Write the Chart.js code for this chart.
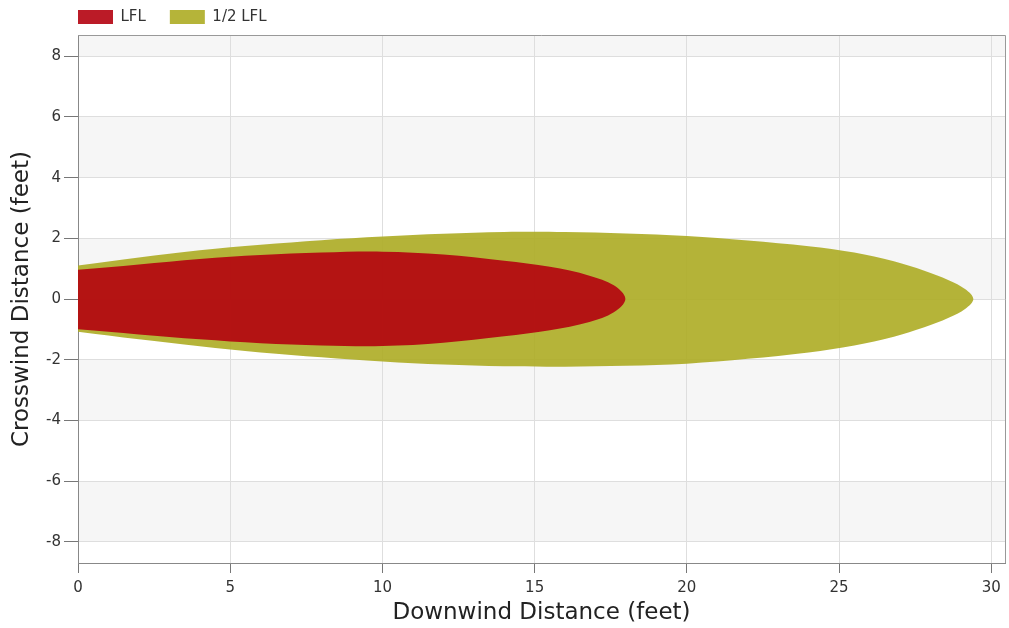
<!DOCTYPE html>
<html>
<head>
<meta charset="utf-8">
<script src="https://cdn.jsdelivr.net/npm/chart.js@4.4.1/dist/chart.umd.min.js"></script>
<style>
  html, body { margin: 0; padding: 0; background: #fff; }
  canvas { display: block; }
</style>
</head>
<body>
<canvas id="plume" width="1009" height="628"></canvas>
<script>
// footprint outlines (feet)
const lflX     = [0, 2, 4, 6, 8, 10, 12, 14, 15.5, 16.8, 17.6, 17.98];
const lflUpper = [0.96, 1.14, 1.32, 1.45, 1.53, 1.56, 1.47, 1.26, 1.06, 0.77, 0.45, 0];
const lflLower = [-1.00, -1.17, -1.33, -1.46, -1.53, -1.55, -1.44, -1.23, -1.03, -0.76, -0.44, 0];

const halfX     = [0, 2, 4, 6, 8, 10, 12, 14, 16, 18, 20, 22, 24, 25.5, 26.8, 27.8, 28.6, 29.15, 29.41];
const halfUpper = [1.10, 1.37, 1.61, 1.79, 1.94, 2.06, 2.15, 2.21, 2.21, 2.16, 2.08, 1.93, 1.74, 1.53, 1.24, 0.93, 0.62, 0.32, 0];
const halfLower = [-1.08, -1.33, -1.56, -1.76, -1.92, -2.06, -2.16, -2.22, -2.23, -2.20, -2.13, -1.97, -1.76, -1.53, -1.24, -0.93, -0.62, -0.32, 0];

const labels = ['LFL', '1/2 LFL'];
const colors = ['rgba(180, 2, 16, 0.9)', 'rgba(173, 172, 36, 0.9)'];

const FONT = 'DejaVu Sans, Verdana, sans-serif';

// go out along the top edge and back along the bottom one
function outline(xs, upper, lower) {
    const pts = xs.map((x, i) => ({ x: x, y: upper[i] }));
    for (let i = xs.length - 2; i >= 0; i--) {
        pts.push({ x: xs[i], y: lower[i] });
    }
    return pts;
}

// alternating grey bands between the y ticks
const bandsPlugin = {
    id: 'bands',
    beforeDraw(chart) {
        const { ctx, chartArea: a, scales: { y } } = chart;
        ctx.save();
        ctx.fillStyle = '#f6f6f6';
        y.ticks.forEach(t => {
            if ((t.value / 2) % 2 !== 0) return;
            const top = Math.max(a.top, y.getPixelForValue(t.value + 2));
            const bottom = Math.min(a.bottom, y.getPixelForValue(t.value));
            ctx.fillRect(a.left, top, a.right - a.left, bottom - top);
        });
        ctx.restore();
    },
    afterDraw(chart) {
        // top and right edges of the plot box
        const { ctx, chartArea: a } = chart;
        ctx.save();
        ctx.strokeStyle = '#999';
        ctx.lineWidth = 1;
        ctx.beginPath();
        ctx.moveTo(a.left, a.top + 0.5);
        ctx.lineTo(a.right + 0.5, a.top + 0.5);
        ctx.lineTo(a.right + 0.5, a.bottom);
        ctx.stroke();
        ctx.restore();
    }
};

// move the legend so it starts above the y axis
const legendShift = {
    id: 'legendShift',
    afterLayout(chart) {
        const lg = chart.legend;
        const pad = lg.options.labels.padding;
        lg.left = 78 - pad;
        lg.top = 17 - 7.5 - pad;
    }
};

new Chart(document.getElementById('plume'), {
    type: 'line',
    data: {
        datasets: [
            {
                label: labels[0],
                data: outline(lflX, lflUpper, lflLower),
                backgroundColor: colors[0],
                borderColor: colors[0],
                borderWidth: 0,
                fill: 'shape',
                tension: 0.35,
                pointRadius: 0
            },
            {
                label: labels[1],
                data: outline(halfX, halfUpper, halfLower),
                backgroundColor: colors[1],
                borderColor: colors[1],
                borderWidth: 0,
                fill: 'shape',
                tension: 0.35,
                pointRadius: 0
            }
        ]
    },
    options: {
        responsive: false,
        animation: false,
        layout: { padding: { left: 0, right: 4, top: 0, bottom: 0 } },
        plugins: {
            legend: {
                position: 'top',
                align: 'start',
                maxHeight: 35,
                labels: {
                    boxWidth: 35,
                    boxHeight: 14,
                    padding: 24,
                    color: '#333',
                    font: { family: FONT, size: 15 }
                }
            },
            tooltip: { enabled: false }
        },
        scales: {
            x: {
                type: 'linear',
                min: 0,
                max: 30.45,
                afterFit(scale) { scale.height = 65; },
                ticks: {
                    stepSize: 5,
                    includeBounds: false,
                    padding: 6,
                    maxRotation: 0,
                    color: '#333',
                    font: { family: FONT, size: 15 }
                },
                grid: { color: '#dedede', tickColor: '#777', tickLength: 10 },
                border: { color: '#888' },
                title: {
                    display: true,
                    text: 'Downwind Distance (feet)',
                    color: '#222',
                    font: { family: FONT, size: 23 },
                    padding: { top: 0, bottom: 1 }
                }
            },
            y: {
                type: 'linear',
                min: -8.7,
                max: 8.7,
                afterFit(scale) { scale.width = 78; },
                ticks: {
                    stepSize: 2,
                    includeBounds: false,
                    padding: 3,
                    color: '#333',
                    font: { family: FONT, size: 15 }
                },
                grid: { color: '#dedede', tickColor: '#777', tickLength: 14 },
                border: { color: '#888' },
                title: {
                    display: true,
                    text: 'Crosswind Distance (feet)',
                    color: '#222',
                    font: { family: FONT, size: 23 },
                    padding: { top: 8, bottom: 0 }
                }
            }
        }
    },
    plugins: [bandsPlugin, legendShift]
});
</script>
</body>
</html>
